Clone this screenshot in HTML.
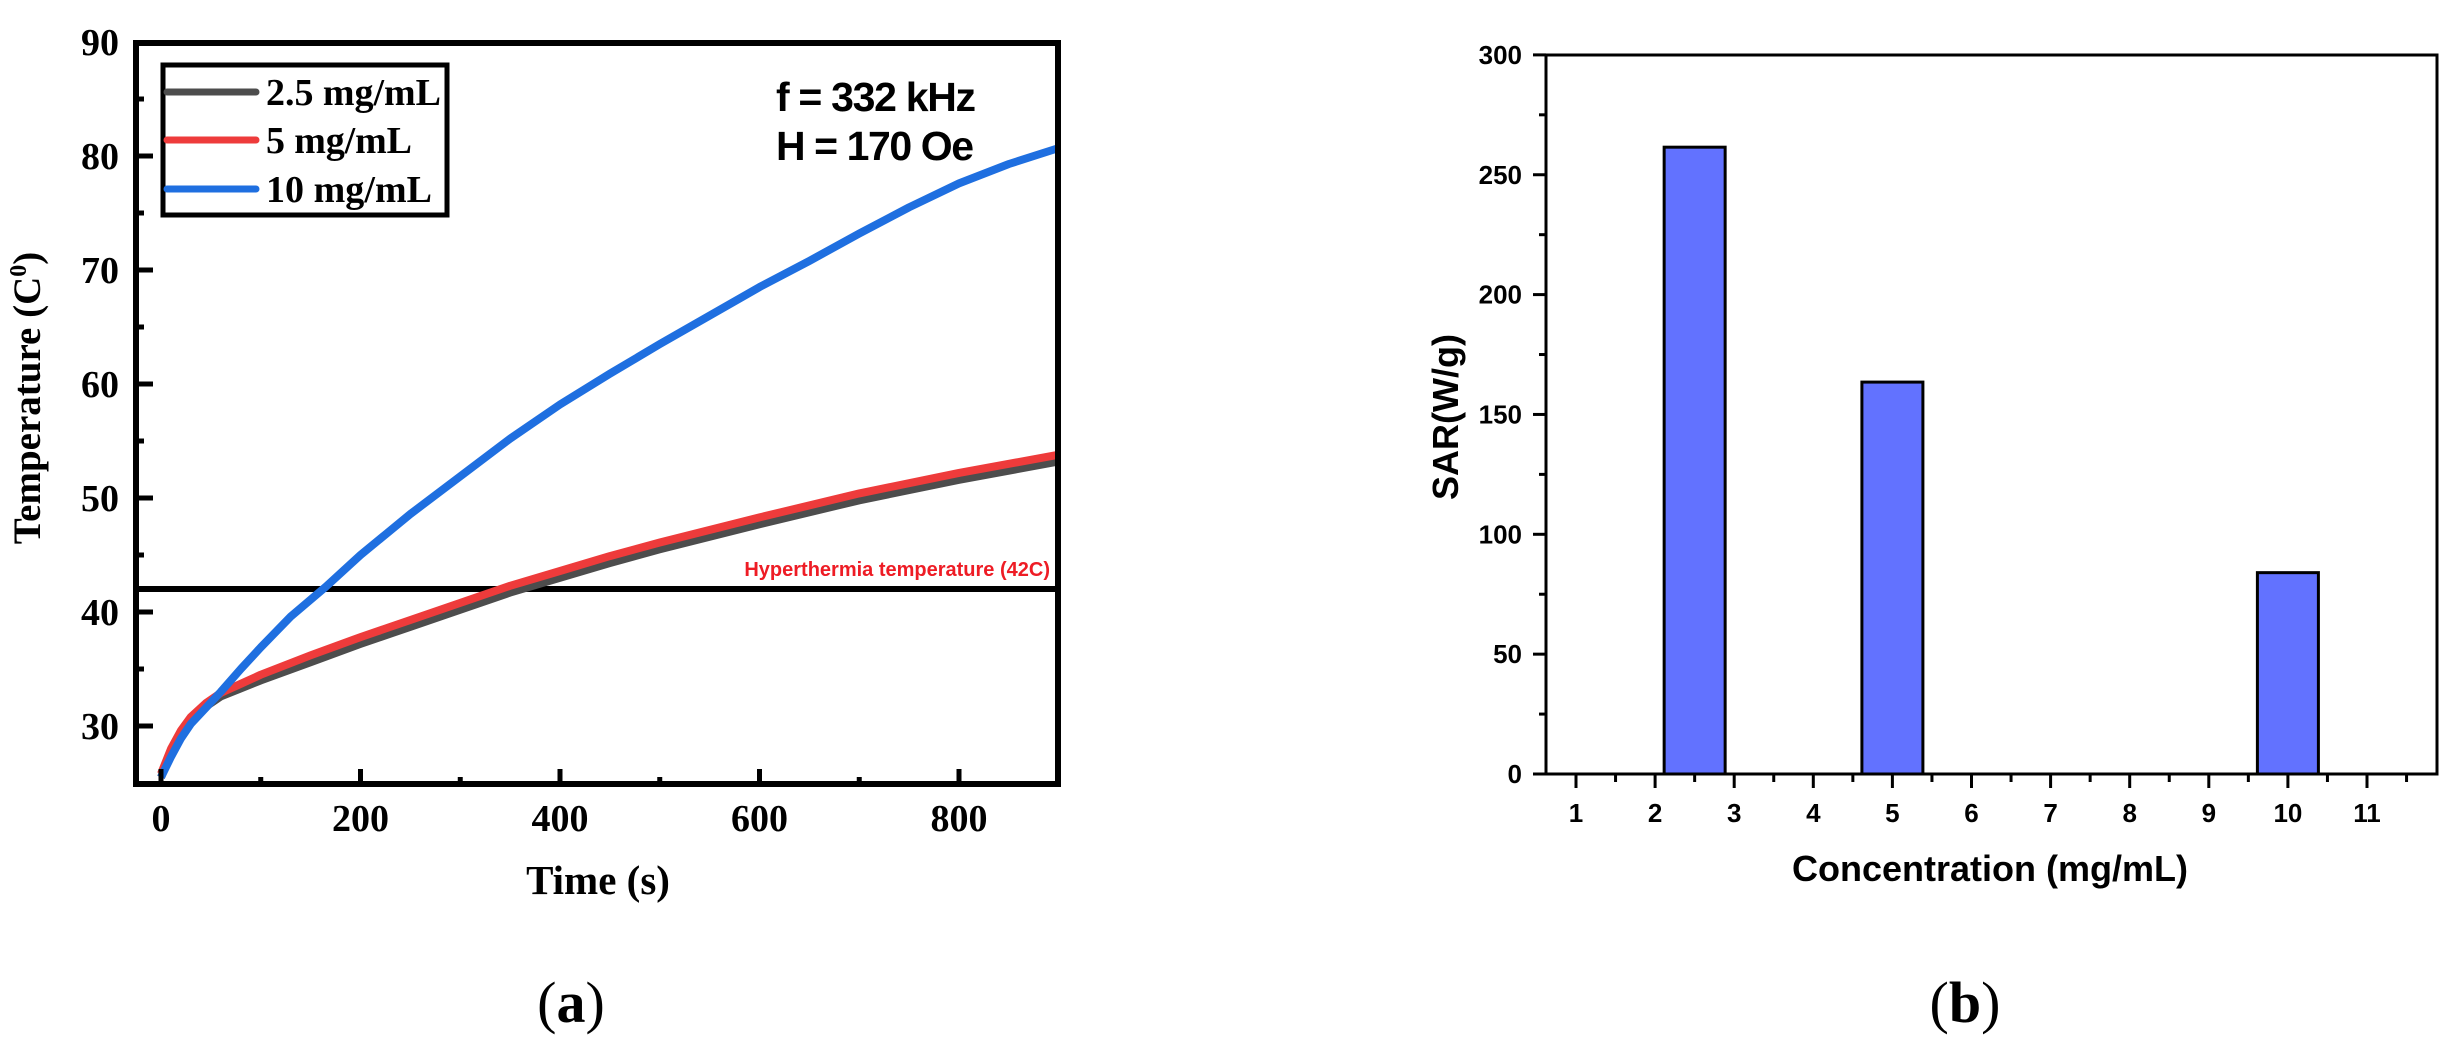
<!DOCTYPE html>
<html><head><meta charset="utf-8"><style>
html,body{margin:0;padding:0;background:#fff;width:2461px;height:1055px;overflow:hidden}
svg{display:block}
.ser{font-family:"Liberation Serif",serif;font-weight:bold}
.sans{font-family:"Liberation Sans",sans-serif}
</style></head><body>
<svg id="s" width="2461" height="1055" viewBox="0 0 2461 1055" xmlns="http://www.w3.org/2000/svg">
<rect width="2461" height="1055" fill="#fff"/>
<g id="left"></g>
<g id="right"></g>
<text x="27" y="398" class="ser" font-size="39" text-anchor="middle" transform="rotate(-90 27 398)" dy="13">Temperature (C<tspan font-size="24" dy="-14">0</tspan><tspan dy="14">)</tspan></text>
<text x="598" y="894" class="ser" font-size="41" text-anchor="middle">Time (s)</text>
<text x="571" y="1022" font-family="Liberation Serif,serif" font-size="58" text-anchor="middle">(<tspan font-weight="bold">a</tspan>)</text>
<text x="776" y="111" class="sans" font-size="41" font-weight="bold" textLength="200">f = 332 kHz</text>
<text x="776" y="160" class="sans" font-size="41" font-weight="bold" textLength="198">H = 170 Oe</text>
<text x="1050" y="576" class="sans" font-size="20" font-weight="bold" fill="#ee1c25" text-anchor="end">Hyperthermia temperature (42C)</text>
<text x="1446" y="417" class="sans" font-size="36" font-weight="bold" text-anchor="middle" transform="rotate(-90 1446 417)" dy="12">SAR(W/g)</text>
<text x="1990" y="881" class="sans" font-size="36" font-weight="bold" text-anchor="middle">Concentration (mg/mL)</text>
<text x="1965" y="1022" font-family="Liberation Serif,serif" font-size="58" text-anchor="middle">(<tspan font-weight="bold">b</tspan>)</text>
</svg>
<script>
var NS="http://www.w3.org/2000/svg";
function el(p,t,a,txt){var e=document.createElementNS(NS,t);for(var k in a)e.setAttribute(k,a[k]);if(txt!==undefined)e.textContent=txt;p.appendChild(e);return e;}
var L=document.getElementById('left'),R=document.getElementById('right');
function X(t){return 161+t*0.9975}function Y(T){return 42+(90-T)*11.4}
var black=[[0,25.5],[10,27.6],[20,29.2],[30,30.4],[45,31.7],[60,32.6],[80,33.3],[100,34],[150,35.6],[200,37.2],[250,38.7],[300,40.2],[350,41.7],[400,43],[450,44.3],[500,45.5],[600,47.7],[700,49.8],[800,51.6],[900,53.2]];
var red=[[0,25.8],[10,28],[20,29.6],[30,30.8],[45,32],[60,32.9],[80,33.7],[100,34.5],[150,36.2],[200,37.8],[250,39.3],[300,40.8],[350,42.3],[400,43.6],[450,44.9],[500,46.1],[600,48.3],[700,50.4],[800,52.2],[900,53.8]];
var blue=[[0,25.5],[10,27.3],[20,28.9],[30,30.2],[45,31.6],[60,33],[80,35],[100,36.9],[130,39.6],[165,42.2],[200,45],[250,48.6],[300,51.9],[350,55.2],[400,58.2],[450,60.9],[500,63.5],[550,66],[600,68.5],[650,70.8],[700,73.2],[750,75.5],[800,77.6],[850,79.3],[900,80.7]];
el(L,'line',{x1:136,y1:589,x2:1058,y2:589,stroke:'#000','stroke-width':6});
function curve(d,c){el(L,'polyline',{points:d.map(function(p){return X(p[0]).toFixed(1)+','+Y(p[1]).toFixed(1)}).join(' '),fill:'none',stroke:c,'stroke-width':8,'stroke-linejoin':'round'});}
curve(black,'#4d4d4d');curve(red,'#ee3b3b');curve(blue,'#1f6fe0');
for(var t=0;t<=800;t+=100){var maj=t%200==0;el(L,'line',{x1:X(t),x2:X(t),y1:784,y2:maj?769:777,stroke:'#000','stroke-width':5});if(maj)el(L,'text',{x:X(t),y:831,'class':'ser','font-size':38,'text-anchor':'middle'},String(t));}
for(var T=30;T<=85;T+=5){var maj=T%10==0;el(L,'line',{x1:136,x2:maj?153:144,y1:Y(T),y2:Y(T),stroke:'#000','stroke-width':5});}
for(var T=30;T<=90;T+=10)el(L,'text',{x:119,y:Y(T)+13,'class':'ser','font-size':38,'text-anchor':'end'},String(T));
el(L,'rect',{x:136,y:43,width:922,height:741,fill:'none',stroke:'#000','stroke-width':6});
el(L,'rect',{x:163,y:65,width:284,height:150,fill:'#fff',stroke:'#000','stroke-width':5});
var lg=[['2.5 mg/mL','#4d4d4d',92,175],['5 mg/mL','#ee3b3b',140,146],['10 mg/mL','#1f6fe0',189,166]];
lg.forEach(function(g){el(L,'line',{x1:167,x2:256,y1:g[2],y2:g[2],stroke:g[1],'stroke-width':7,'stroke-linecap':'round'});el(L,'text',{x:266,y:g[2]+13,'class':'ser','font-size':38,textLength:g[3]},g[0]);});
function RX(v){return 1576+(v-1)*79.1}function RY(v){return 774-v*2.397}
[[2.5,261.5],[5,163.5],[10,84]].forEach(function(b){el(R,'rect',{x:RX(b[0])-30.5,y:RY(b[1]),width:61,height:774-RY(b[1]),fill:'#6272ff',stroke:'#000','stroke-width':3});});
for(var v=1;v<=11.5;v+=0.5){var maj=v%1==0;el(R,'line',{x1:RX(v),x2:RX(v),y1:774,y2:maj?788:782,stroke:'#000','stroke-width':3});if(maj)el(R,'text',{x:RX(v),y:822,'class':'sans','font-size':26,'font-weight':'bold','text-anchor':'middle'},String(v));}
for(var v=0;v<=300;v+=25){var maj=v%50==0;el(R,'line',{x1:1546,x2:maj?1533:1539,y1:RY(v),y2:RY(v),stroke:'#000','stroke-width':3});if(maj)el(R,'text',{x:1522,y:RY(v)+9,'class':'sans','font-size':26,'font-weight':'bold','text-anchor':'end'},String(v));}
el(R,'rect',{x:1546,y:55,width:891,height:719,fill:'none',stroke:'#000','stroke-width':3});
</script>
</body></html>
